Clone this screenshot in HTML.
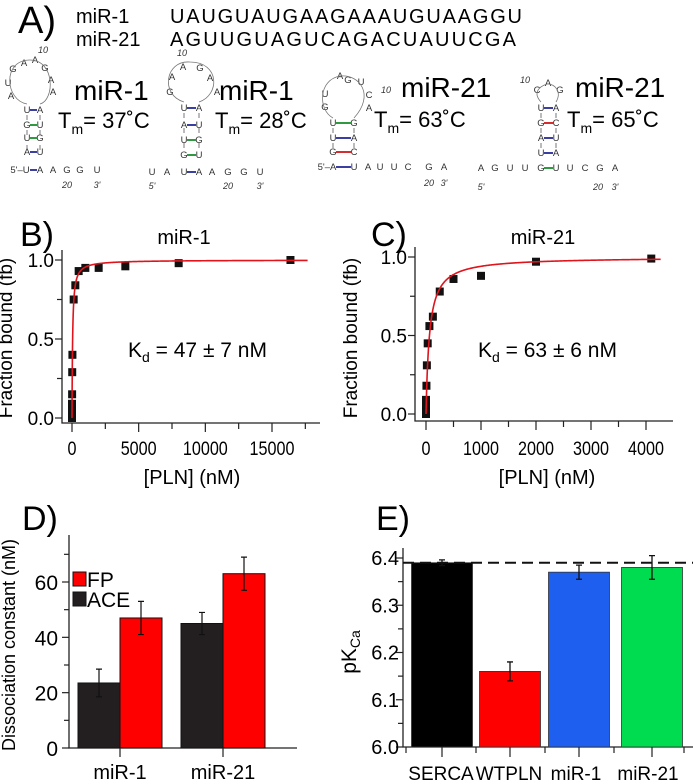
<!DOCTYPE html>
<html><head><meta charset="utf-8"><style>
html,body{margin:0;padding:0;background:#fff}
svg{display:block;font-family:"Liberation Sans",sans-serif}
</style></head><body>
<svg id="fig" width="693" height="784" viewBox="0 0 693 784" xmlns="http://www.w3.org/2000/svg">
<g>
<text x="18" y="33" font-size="38">A)</text>
<text x="76" y="23" font-size="20">miR-1</text>
<text x="170" y="23" font-size="20" textLength="352">UAUGUAUGAAGAAAUGUAAGGU</text>
<text x="76" y="46" font-size="20">miR-21</text>
<text x="170" y="46" font-size="20" textLength="346">AGUUGUAGUCAGACUAUUCGA</text>
<g font-size="28">
<text x="74" y="100">miR-1</text>
<text x="219" y="100">miR-1</text>
<text x="401" y="97">miR-21</text>
<text x="575" y="97">miR-21</text>
</g>
<g font-size="22">
<text x="58" y="128">T<tspan font-size="14" dy="6">m</tspan><tspan dy="-6">= 37˚C</tspan></text>
<text x="215" y="128">T<tspan font-size="14" dy="6">m</tspan><tspan dy="-6">= 28˚C</tspan></text>
<text x="374" y="127">T<tspan font-size="14" dy="6">m</tspan><tspan dy="-6">= 63˚C</tspan></text>
<text x="567" y="127">T<tspan font-size="14" dy="6">m</tspan><tspan dy="-6">= 65˚C</tspan></text>
</g>
<g id="rna" font-size="9.5" fill="#333" text-anchor="middle"></g>
</g>
<g id="pb"></g>
<g id="pc"></g>
<g id="pd"></g>
<g id="pe"></g>
</svg>
<script>
// ---- Data ----
const bConc = [0,0,0,0,8,16,31,125,250,500,1000,2000,4000,8000,16384];
const bFrac = [0.0,0.03,0.06,0.09,0.15,0.29,0.40,0.75,0.84,0.93,0.95,0.95,0.96,0.98,1.0];
const bKd = [47];
const bXTicks = [0,5000,10000,15000];
const cConc = [0,0,0,0,8,16,31,62,125,250,500,1000,2000,4096];
const cFrac = [0.0,0.03,0.06,0.09,0.18,0.31,0.45,0.56,0.62,0.78,0.86,0.88,0.97,0.99];
const cKd = [63];
const cXTicks = [0,1000,2000,3000,4000];
const fracTicks = ["0.0","0.5","1.0"];
const dCategories = ["miR-1","miR-21"];
const dACE = [23.5,45];
const dACEerr = [5,4];
const dFP = [47,63];
const dFPerr = [6,6];
const dYTicks = [0,20,40,60];
const eCategories = ["SERCA","WTPLN","miR-1","miR-21"];
const ePKCa = [6.39,6.16,6.37,6.38];
const eErr = [0.006,0.02,0.015,0.025];
const eYTicks = ["6.0","6.1","6.2","6.3","6.4"];
const eRef = [6.39];

const NS="http://www.w3.org/2000/svg";
function mk(parent,tag,attrs,txt){const e=document.createElementNS(NS,tag);for(const k in attrs)e.setAttribute(k,attrs[k]);if(txt!==undefined)e.textContent=txt;parent.appendChild(e);return e;}

// ---- RNA structures ----
const rna=document.getElementById('rna');
const S=[
 [["G",13,72],["A",24,66],["A",35,63],["G",45,71],["A",51,83],["A",53,95],["U",8,86],["A",11,99],
  ["U",27,113],["A",40,113],["G",27,128],["U",40,128],["U",27,141],["G",40,141],["A",27,155],["U",40,155],
  ["5'–U",20,173],["A",40,173],["A",53,173],["G",67,173],["G",80,173],["U",97,173]],
 [["A",183,70],["G",200,71],["A",172,80],["A",210,81],["G",170,95],["A",217,95],
  ["U",184,111],["A",199,111],["A",184,128],["U",199,128],["U",184,143],["G",199,143],["G",184,158],["U",199,158],
  ["U",152,175],["A",167,175],["U",184,175],["A",199,175],["A",212,175],["G",228,175],["G",244,175],["U",260,175]],
 [["A",340,79],["G",348,83],["U",361,85],["C",369,98],["A",369,111],["U",325,97],["G",325,110],
  ["U",333,126],["G",354,126],["U",333,141],["A",354,141],["G",333,155],["C",354,155],
  ["5'–A",327,170],["U",354,170],["A",368,170],["U",380,170],["U",394,170],["C",408,170],["G",429,170],["A",444,170]],
 [["C",537,93],["A",548,86],["G",560,93],["U",541,111],["A",556,111],["G",541,126],["C",556,126],["A",541,141],["U",556,141],["U",541,156],["A",556,156],
  ["A",481,171],["G",495,171],["U",510,171],["U",525,171],["G",541,171],["U",556,171],["U",570,171],["C",585,171],["G",600,171],["A",615,171]]
];
const numbers=[["10",43,53],["20",67,188],["3'",97,188],["10",182,56],["5'",152,189],["20",228,189],["3'",260,189],["10",386,93],["20",429,186],["3'",444,186],["10",525,83],["5'",481,190],["20",598,190],["3'",615,190]];
S.forEach(function(st,i){
  const g=mk(rna,'g',{});
  
  
  st.forEach(function(n){mk(g,'text',{x:n[1],y:n[2]},n[0]);});
});
numbers.forEach(function(n){mk(rna,'text',{x:n[1],y:n[2],'font-style':'italic','font-size':'9'},n[0]);});
const bonds=[[30,37,110,'#3a3fa0'],[30,37,125,'#2f9a3f'],[30,37,138,'#2f9a3f'],[30,37,152,'#3a3fa0'],[30,37,170,'#3a3fa0'],
 [187,196,108,'#3a3fa0'],[187,196,125,'#3a3fa0'],[187,196,140,'#2f9a3f'],[187,196,155,'#2f9a3f'],[187,196,172,'#3a3fa0'],
 [336,351,123,'#2f9a3f'],[336,351,138,'#3a3fa0'],[336,351,152,'#d03030'],[336,351,167,'#3a3fa0'],
 [544,553,108,'#3a3fa0'],[544,553,123,'#d03030'],[544,553,138,'#3a3fa0'],[544,553,153,'#3a3fa0'],[544,553,168,'#2f9a3f']];
bonds.forEach(function(b){mk(rna,'line',{x1:b[0],x2:b[1],y1:b[2],y2:b[2],stroke:b[3],'stroke-width':2});});
[[27,113,155],[40,113,155],[184,111,158],[199,111,158],[333,126,155],[354,126,155],[541,111,156],[556,111,156]].forEach(function(l){
  for(let y=l[1]+2;y<l[2];y+=15)mk(rna,'line',{x1:l[0],x2:l[0],y1:y,y2:y+5,stroke:'#555','stroke-width':0.8});});
mk(rna,'path',{d:'M27 104 C5 100 2 60 30 60 C55 60 55 100 40 104',fill:'none',stroke:'#777','stroke-width':0.8});
mk(rna,'path',{d:'M184 102 C160 95 165 60 190 62 C220 62 220 95 199 102',fill:'none',stroke:'#777','stroke-width':0.8});
mk(rna,'path',{d:'M333 118 C318 110 318 80 340 76 C360 74 375 95 354 118',fill:'none',stroke:'#777','stroke-width':0.8});
mk(rna,'path',{d:'M541 102 C530 90 545 84 548 84 C555 84 562 92 556 102',fill:'none',stroke:'#777','stroke-width':0.8});

// ---- Binding curves ----
function binding(gid,opt){
  const g=document.getElementById(gid);
  const sx=function(v){return opt.x0+(v-opt.xmin)*opt.xs;};
  const sy=function(v){return opt.y0-v*(opt.y0-opt.y1);};
  const pl=mk(g,'text',{x:opt.lx,y:246,'font-size':34},opt.letter);
  
  
  const t=mk(g,'text',{x:opt.tx,y:244,'font-size':20,'text-anchor':'middle'},opt.title);
  
  
  const ax=mk(g,'path',{d:'M'+opt.ax+' '+(opt.y1-10)+' V'+opt.axY+' H'+opt.xend,fill:'none',stroke:'#222','stroke-width':1.3});
  
  
  [0,0.25,0.5,0.75,1].forEach(function(v){mk(g,'line',{x1:opt.ax,x2:opt.ax-(v*4%2==0?7:5),y1:sy(v),y2:sy(v),stroke:'#222','stroke-width':1.2});});
  fracTicks.forEach(function(l){const tx=mk(g,'text',{x:opt.ax-8,y:sy(+l)+7,'font-size':19,'text-anchor':'end'},l);
    });
  for(let v=0;sx(v)<=opt.xend;v+=opt.minor){const maj=opt.ticks.indexOf(v)>=0;mk(g,'line',{x1:sx(v),x2:sx(v),y1:opt.axY,y2:opt.axY+(maj?9:6),stroke:'#222','stroke-width':1.2});}
  opt.ticks.forEach(function(v){const tx=mk(g,'text',{x:sx(v),y:455,'font-size':19,'text-anchor':'middle',transform:'translate('+sx(v)+' 0) scale(0.85 1) translate('+(-sx(v))+' 0)'},String(v));
    });
  const xl=mk(g,'text',{x:opt.xlx,y:484,'font-size':20,'text-anchor':'middle'},'[PLN] (nM)');
  
  const yl=mk(g,'text',{x:0,y:0,'font-size':19,'text-anchor':'middle',transform:'translate('+opt.ylx+',338) rotate(-90)'},'Fraction bound (fb)');
  
  let d='';const xmax=(opt.xend-opt.x0)/opt.xs*0.95;
  for(let i=0;i<=400;i++){const v=xmax*Math.pow(i/400,3);d+=(i?'L':'M')+sx(v).toFixed(2)+' '+sy(v/(opt.kd[0]+v)).toFixed(2);}
  opt.conc.forEach(function(c,i){const r=mk(g,'rect',{x:sx(c)-4,y:sy(opt.frac[i])-4,width:8,height:8,fill:'#111'});
    });
  const p=mk(g,'path',{d:d,fill:'none',stroke:'#e0141c','stroke-width':1.6});
  
  const kd=mk(g,'text',{x:opt.kdx,y:357,'font-size':21},'');
  
  kd.innerHTML='K<tspan font-size="14" dy="5">d</tspan><tspan dy="-5"> = '+opt.kd[0]+' ± '+opt.kerr+' nM</tspan>';
}
binding('pb',{letter:'B)',lx:20,tx:184,title:'miR-1',ax:62,axY:423,xend:320,x0:72,xmin:0,xs:200/15000,y0:418,y1:260,conc:bConc,frac:bFrac,kd:bKd,kerr:7,ticks:bXTicks,minor:2500,xlx:192,ylx:12,kdx:128});
binding('pc',{letter:'C)',lx:371,tx:543,title:'miR-21',ax:415,axY:421,xend:673,x0:426,xmin:0,xs:220/4000,y0:414,y1:257,conc:cConc,frac:cFrac,kd:cKd,kerr:6,ticks:cXTicks,minor:500,xlx:547,ylx:357,kdx:478});

// ---- Panel D ----
(function(){
  const g=document.getElementById('pd');
  const y0=748,ys=166/60,ax=69;
  const sy=function(v){return y0-v*ys;};
  mk(g,'text',{x:22,y:530,'font-size':34},'D)');
  mk(g,'path',{d:'M'+ax+' 535 V'+y0+' H297',fill:'none',stroke:'#222','stroke-width':1.3});
  for(let v=0;v<=70;v+=10)mk(g,'line',{x1:ax,x2:ax-(v%20==0?7:5),y1:sy(v),y2:sy(v),stroke:'#222','stroke-width':1.2});
  dYTicks.forEach(function(v){const t=mk(g,'text',{x:ax-11,y:sy(v)+8,'font-size':21,'text-anchor':'end'},String(v));
    });
  const yl=mk(g,'text',{x:0,y:0,'font-size':18,'text-anchor':'middle',transform:'translate(15,645) rotate(-90)'},'Dissociation constant (nM)');
  
  const centers=[120,223],bw=42;
  dCategories.forEach(function(c,i){
    const cx=centers[i];
    const a=mk(g,'rect',{x:cx-bw,y:sy(dACE[i]),width:bw,height:y0-sy(dACE[i]),fill:'#231f20',stroke:'#111'});
    
    const f=mk(g,'rect',{x:cx,y:sy(dFP[i]),width:bw,height:y0-sy(dFP[i]),fill:'#f00',stroke:'#111'});
    
    [[cx-bw/2,dACE[i],dACEerr[i]],[cx+bw/2,dFP[i],dFPerr[i]]].forEach(function(e){
      mk(g,'path',{d:'M'+e[0]+' '+sy(e[1]+e[2])+' V'+sy(e[1]-e[2])+' M'+(e[0]-3)+' '+sy(e[1]+e[2])+' h6 M'+(e[0]-3)+' '+sy(e[1]-e[2])+' h6',stroke:'#111','stroke-width':1.2,fill:'none'});});
    mk(g,'line',{x1:cx,x2:cx,y1:y0,y2:y0+9,stroke:'#222','stroke-width':1.2});
    const t=mk(g,'text',{x:cx,y:779,'font-size':20,'text-anchor':'middle'},c);
    
  });
  const l1=mk(g,'rect',{x:73,y:572,width:13,height:14,fill:'#f00',stroke:'#111'});
  
  mk(g,'text',{x:87,y:587,'font-size':21},'FP');
  const l2=mk(g,'rect',{x:73,y:592,width:13,height:14,fill:'#231f20',stroke:'#111'});
  
  mk(g,'text',{x:87,y:607,'font-size':21},'ACE');
})();

// ---- Panel E ----
(function(){
  const g=document.getElementById('pe');
  const y0=747,ys=189/0.4,ax=403;
  const sy=function(v){return y0-(v-6.0)*ys;};
  mk(g,'text',{x:376,y:530,'font-size':34},'E)');
  mk(g,'path',{d:'M'+ax+' 548 V'+y0+' H693',fill:'none',stroke:'#222','stroke-width':1.3});
  for(let i=0;i<=8;i++){const v=6.0+i*0.05;mk(g,'line',{x1:ax,x2:ax-(i%2==0?7:5),y1:sy(v),y2:sy(v),stroke:'#222','stroke-width':1.2});}
  eYTicks.forEach(function(l){const t=mk(g,'text',{x:ax-4,y:sy(+l)+7,'font-size':20,'text-anchor':'end'},l);
    });
  const yl=mk(g,'text',{x:0,y:0,'font-size':21,'text-anchor':'middle',transform:'translate(356,652) rotate(-90)'},'');
  yl.innerHTML='pK<tspan font-size="14" dy="4">Ca</tspan>';
  
  const colors=['#000','#f00','#1f5ff0','#00dc50'];
  const centers=[442,510,579,652],labelX=[441,509,576,648],bw=61;
  eCategories.forEach(function(c,i){
    const cx=centers[i];
    const b=mk(g,'rect',{x:cx-bw/2,y:sy(ePKCa[i]),width:bw,height:y0-sy(ePKCa[i]),fill:colors[i],stroke:'#333','stroke-width':0.8});
    
    mk(g,'path',{d:'M'+cx+' '+sy(ePKCa[i]+eErr[i])+' V'+sy(ePKCa[i]-eErr[i])+' M'+(cx-3)+' '+sy(ePKCa[i]+eErr[i])+' h6 M'+(cx-3)+' '+sy(ePKCa[i]-eErr[i])+' h6',stroke:'#111','stroke-width':1.3,fill:'none'});
    mk(g,'line',{x1:cx,x2:cx,y1:y0,y2:y0+10,stroke:'#222','stroke-width':1.2});
    const t=mk(g,'text',{x:labelX[i],y:780,'font-size':19,'text-anchor':'middle'},c);
    
  });
  [406,476,545,614,684].forEach(function(x){mk(g,'line',{x1:x,x2:x,y1:y0,y2:y0+6,stroke:'#222','stroke-width':1.2});});
  const dl=mk(g,'line',{x1:ax,x2:693,y1:sy(eRef[0]),y2:sy(eRef[0]),stroke:'#111','stroke-width':2,'stroke-dasharray':'11 6'});
  
})();
</script>
</body></html>
